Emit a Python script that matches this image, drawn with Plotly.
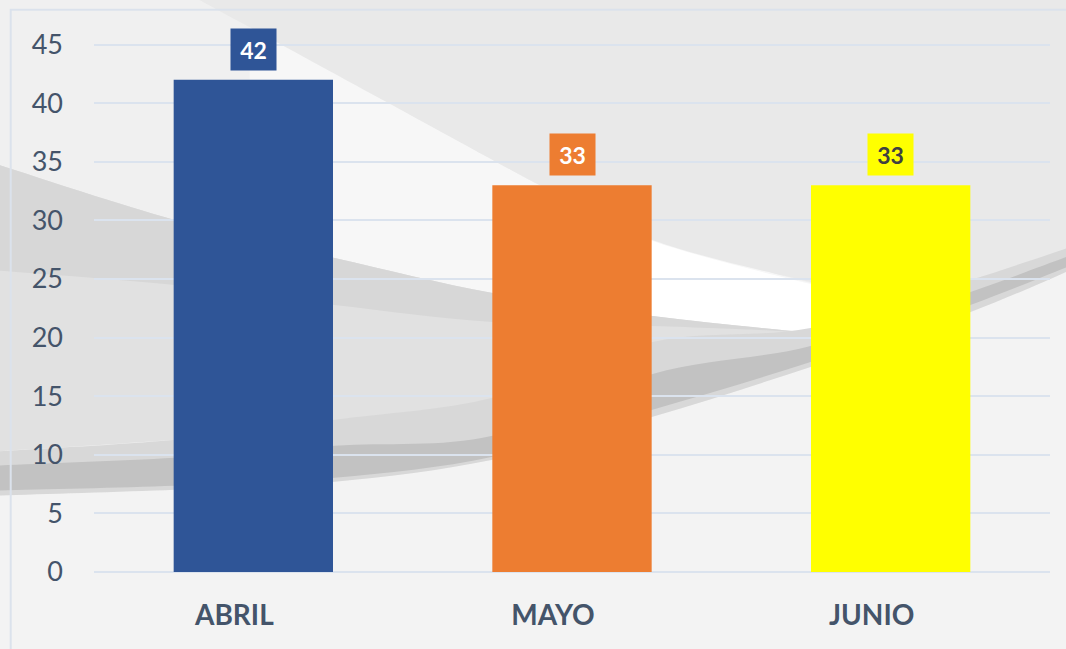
import plotly.graph_objects as go

# ---- data ----
months = ["ABRIL", "MAYO", "JUNIO"]
values = [42, 33, 33]
bar_colors = ["#2F5597", "#ED7D31", "#FFFF00"]
label_text_colors = ["#FFFFFF", "#FFFFFF", "#404040"]
y_ticks = [0, 5, 10, 15, 20, 25, 30, 35, 40, 45]

W, H = 1066, 649
Y_MAX = 45.3
PX_PER_UNIT = 528.0 / 45
L, R, B = 94.3, 1050.5, 572.3
T = B - Y_MAX * PX_PER_UNIT


def to_paper(px, py):
    return (px - L) / (R - L), (B - py) / (B - T)


def curve(pts):
    """Catmull-Rom -> cubic bezier segments (paper coords), decoration only."""
    P = [to_paper(x, y) for x, y in pts]
    n = len(P)
    d = " L {:.5f},{:.5f}".format(*P[0])
    for i in range(n - 1):
        p0 = P[i - 1] if i > 0 else P[i]
        p1, p2 = P[i], P[i + 1]
        p3 = P[i + 2] if i + 2 < n else P[i + 1]
        c1 = (p1[0] + (p2[0] - p0[0]) / 6, p1[1] + (p2[1] - p0[1]) / 6)
        c2 = (p2[0] - (p3[0] - p1[0]) / 6, p2[1] - (p3[1] - p1[1]) / 6)
        d += " C {:.5f},{:.5f} {:.5f},{:.5f} {:.5f},{:.5f}".format(*c1, *c2, *p2)
    return d


def bg_shape(pieces, color, opacity=1.0):
    d = ""
    for pc in pieces:
        d += curve(pc)
    d = "M" + d[2:] + " Z"
    return dict(type="path", xref="paper", yref="paper", path=d,
                fillcolor=color, line=dict(width=0), layer="below", opacity=opacity)


upper_edge = [(530, 180), (653, 240), (811, 282), (900, 300), (971, 284), (1080, 244)]
wedge_top = [(-10, 162), (175, 220), (335, 258), (493, 293), (653, 316), (811, 333), (880, 339)]
band_top = [(-10, 452), (175, 440), (335, 420), (493, 398), (653, 342), (811, 328),
            (971, 280), (1080, 244)]
band_bot = [(1080, 266), (971, 312), (811, 367), (653, 417), (493, 460), (335, 482),
            (175, 490), (-10, 496)]

shapes = [
    # light lens below the diagonal
    bg_shape([[(250, 26), (530, 180)], [(653, 240), (811, 283), (900, 301)],
              [(880, 339), (811, 334), (653, 317), (493, 294), (335, 258), (250, 240)]],
             "#f7f7f7"),
    bg_shape([[(560, 196), (653, 241), (811, 284), (900, 302)],
              [(880, 339), (811, 334), (653, 318), (560, 306), (540, 260), (560, 196)]],
             "#ffffff"),
    # upper-right grey region
    bg_shape([[(182, -10), (530, 180)], upper_edge, [(1080, -10)]], "#e9e9e9"),
    # left grey wedge
    bg_shape([wedge_top, [(811, 346), (653, 372), (493, 404), (335, 426), (175, 440), (-10, 452)]],
             "#e1e1e1"),
    bg_shape([wedge_top[:6], [(760, 330), (653, 326), (493, 322), (335, 305), (175, 285), (-10, 270)]],
             "#d7d7d7"),
    # lower light area
    bg_shape([band_bot[::-1], [(1080, 690), (-10, 690)]], "#f3f3f3"),
    # swoosh band
    bg_shape([band_top, band_bot], "#d8d8d8"),
    bg_shape([[(-10, 466), (175, 458), (335, 446), (493, 436), (653, 374), (811, 346),
               (971, 292), (1080, 252)],
              [(1080, 262), (971, 305), (811, 362), (653, 410), (493, 457), (335, 478),
               (175, 486), (-10, 491)]], "#c2c2c2"),
]

# chart border
bx0, by0 = to_paper(11, 9.5)
bx1, by1 = to_paper(1090, 690)
shapes.append(dict(type="rect", xref="paper", yref="paper", x0=bx0, y0=by0, x1=bx1, y1=by1,
                   line=dict(color="#dbe2ec", width=2), fillcolor="rgba(0,0,0,0)",
                   layer="below"))

fig = go.Figure()
fig.add_trace(go.Bar(
    x=months, y=values, marker=dict(color=bar_colors, line=dict(width=0)),
    width=0.5, hoverinfo="skip", showlegend=False,
))

annotations = []
for m, v, c, tc in zip(months, values, bar_colors, label_text_colors):
    annotations.append(dict(
        x=m, y=v, xref="x", yref="y", text="<b>{}</b>".format(v), showarrow=False,
        yanchor="bottom", yshift=9, bgcolor=c, borderpad=5, width=35, height=31,
        font=dict(family="Lato", size=23, color=tc),
    ))

fig.update_layout(
    width=W, height=H,
    margin=dict(l=L, r=W - R, t=T, b=H - B, autoexpand=False),
    paper_bgcolor="#f0f0f0", plot_bgcolor="rgba(0,0,0,0)",
    shapes=shapes, annotations=annotations,
    bargap=0.5,
    xaxis=dict(
        showgrid=False, zeroline=False, showline=False, ticks="",
        tickfont=dict(family="Lato", size=28, color="#44546A", weight="bold"),
        ticklabelshift=-19, ticklabelstandoff=24,
    ),
    yaxis=dict(
        range=[0, Y_MAX], tickvals=y_ticks, showgrid=True, gridcolor="#dbe3ee", gridwidth=2,
        zeroline=True, zerolinecolor="#dbe3ee", zerolinewidth=2, showline=False,
        ticks="", tickfont=dict(family="Lato", size=27, color="#44546A"),
        ticklabelstandoff=30,
    ),
)

fig.write_html("out.html", config={"displayModeBar": False},
               post_script="document.body.style.margin='0';")
